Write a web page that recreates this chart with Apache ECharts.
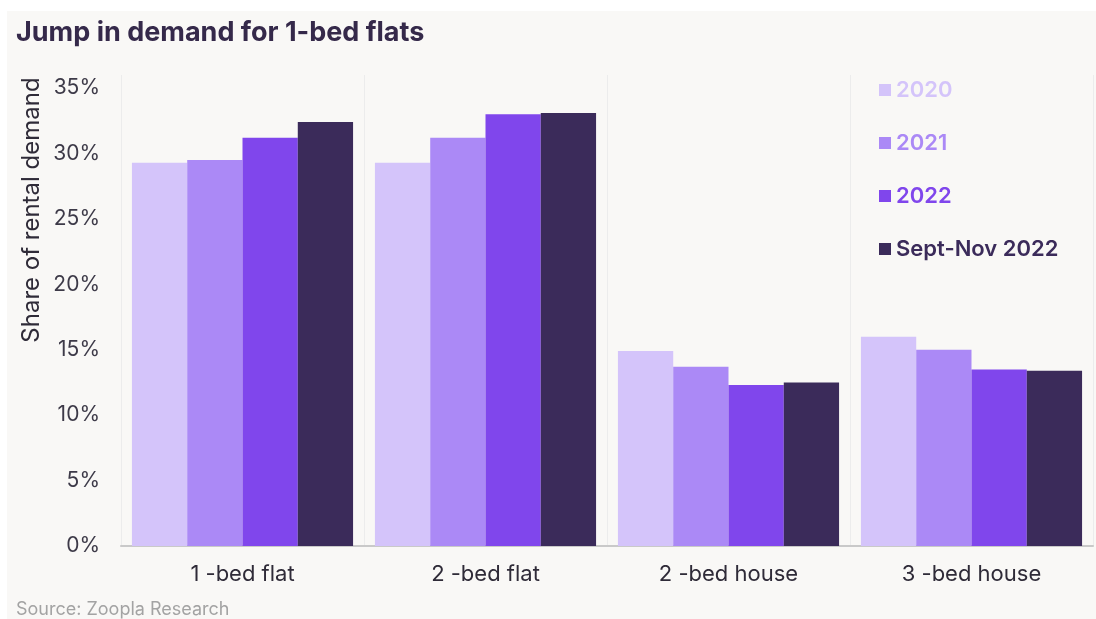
<!DOCTYPE html>
<html>
<head>
<meta charset="utf-8">
<script src="https://cdn.jsdelivr.net/npm/echarts@6/dist/echarts.min.js"></script>
<style>
  html, body { margin: 0; padding: 0; background: #ffffff; }
  #chart { width: 1096px; height: 619px; }
</style>
</head>
<body>
<div id="chart"></div>
<script>
// Share of rental demand by property type (%)
const categories = ['1 -bed flat', '2 -bed flat', '2 -bed house', '3 -bed house'];
const seriesNames = ['2020', '2021', '2022', 'Sept-Nov 2022'];
const values2020 = [29.3, 29.3, 14.9, 16.0];
const values2021 = [29.5, 31.2, 13.7, 15.0];
const values2022 = [31.2, 33.0, 12.3, 13.5];
const valuesSeptNov2022 = [32.4, 33.1, 12.5, 13.4];
const yTicks = [0, 5, 10, 15, 20, 25, 30, 35];

const colors = ['#d4c4fa', '#ab89f6', '#8046ec', '#3b2b5a'];
const seriesValues = [values2020, values2021, values2022, valuesSeptNov2022];
const font = 'Inter, "Noto Sans", sans-serif';

const chart = echarts.init(document.getElementById('chart'));
chart.setOption({
  backgroundColor: '#ffffff',
  animation: false,
  textStyle: { fontFamily: font },
  graphic: [
    {
      type: 'rect', z: -10, silent: true,
      shape: { x: 7, y: 11, width: 1096 - 7, height: 619 - 11 },
      style: { fill: '#f9f8f6' }
    },
    {
      type: 'text', left: 16, top: 19,
      style: { text: 'Jump in demand for 1-bed flats', fontFamily: font, fontSize: 27, fontWeight: 700, fill: '#35294a' }
    },
    {
      type: 'text', x: 32, y: 210, rotation: Math.PI / 2,
      style: { text: 'Share of rental demand', fontFamily: font, fontSize: 24, fill: '#2f2b38', align: 'center', verticalAlign: 'middle' }
    },
    {
      type: 'text', left: 16, top: 601,
      style: { text: 'Source: Zoopla Research', fontFamily: font, fontSize: 18, fill: '#a3a3a3' }
    }
  ],
  legend: {
    orient: 'vertical',
    left: 874, top: 74,
    icon: 'rect', itemWidth: 12, itemHeight: 12, itemGap: 31,
    data: seriesNames.map((n, i) => ({
      name: n,
      textStyle: { color: colors[i], fontSize: 22, fontWeight: 600, lineHeight: 22, fontFamily: font }
    }))
  },
  grid: { left: 121, right: 3, top: 75, bottom: 619 - 546, containLabel: false },
  xAxis: {
    type: 'category',
    data: categories,
    axisLine: { show: true, lineStyle: { color: '#c9c9c9', width: 2 } },
    axisTick: { show: false },
    splitLine: { show: true, interval: 0, lineStyle: { color: '#ececec', width: 1 } },
    axisLabel: { color: '#2f2b38', fontSize: 22, margin: 17, interval: 0 }
  },
  yAxis: {
    type: 'value',
    min: 0, max: 36, interval: 5,
    axisLine: { show: false },
    axisTick: { show: false },
    splitLine: { show: false },
    axisLabel: {
      color: '#3d3a48', fontSize: 21, margin: 21,
      formatter: v => (yTicks.indexOf(v) >= 0 ? v + '%' : '')
    }
  },
  series: seriesNames.map((n, i) => ({
    name: n,
    type: 'bar',
    data: seriesValues[i],
    barGap: '0%',
    barCategoryGap: '9%',
    itemStyle: { color: colors[i] }
  }))
});
</script>
</body>
</html>
